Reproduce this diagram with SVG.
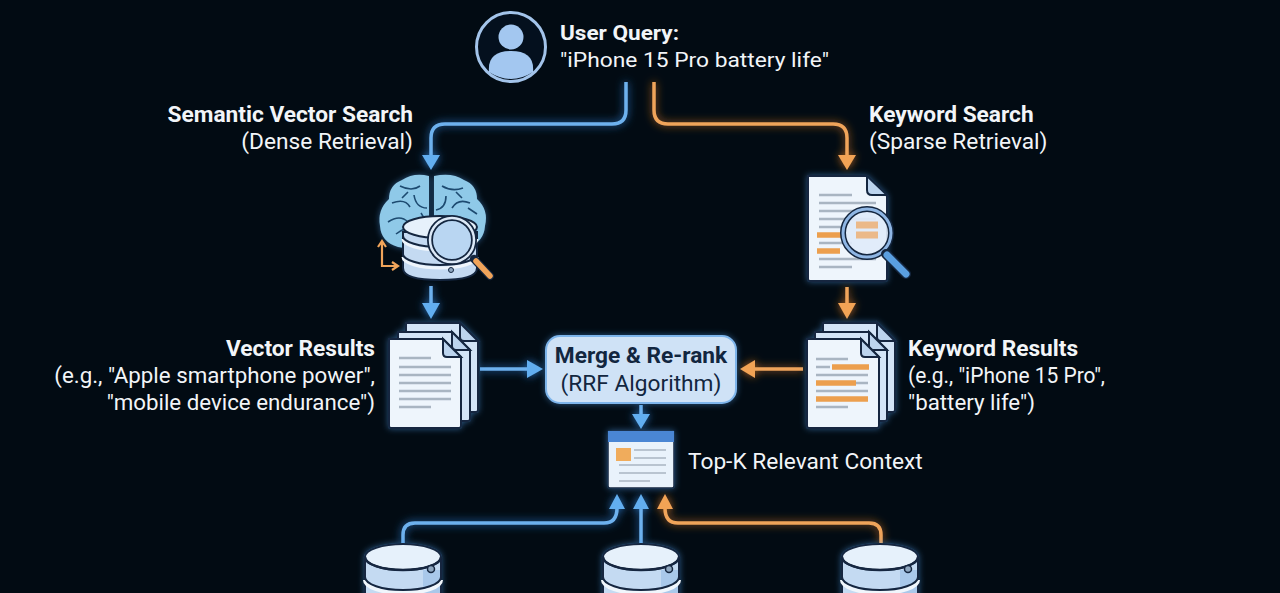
<svg xmlns="http://www.w3.org/2000/svg" width="1280" height="593" viewBox="0 0 1280 593">
<style>
.t{font-family:Roboto,"Liberation Sans",sans-serif;fill:#f2f5f8;font-size:22.7px}
.q{font-size:21px}
.eg{font-size:22.3px}
.b{font-weight:700}
.e{text-anchor:end}
.m{text-anchor:middle}
.blue{fill:none;stroke:#6db1ee;stroke-width:3.5}
.or{fill:none;stroke:#f0a45a;stroke-width:3.5}
.ah{fill:#62aef0}
.ao{fill:#f2a355}
.pg{fill:#eef5fc;stroke:#14263f;stroke-width:2}
.pk{fill:#d3e4f7;stroke:#14263f;stroke-width:2}
.pgb{fill:#bcd4ee;stroke:#14263f;stroke-width:2}
.ln{stroke:#a9b5c2;stroke-width:2.4;fill:none}
.hl{stroke:#ec9f4e;stroke-width:5.5;fill:none}
.ds{stroke:#14263f;stroke-width:2;fill:#c4daf2}
.dt{stroke:#14263f;stroke-width:2;fill:#e6f1fb}
.br{fill:none;stroke:#1d4a70;stroke-width:1.6}
</style>
<defs>
<filter id="gb" filterUnits="userSpaceOnUse" x="0" y="0" width="1280" height="593"><feGaussianBlur in="SourceGraphic" stdDeviation="4.5" result="a"/><feFlood flood-color="#2f86e0" flood-opacity=".85"/><feComposite in2="a" operator="in"/><feMerge><feMergeNode/><feMergeNode in="SourceGraphic"/></feMerge></filter>
<filter id="go" filterUnits="userSpaceOnUse" x="0" y="0" width="1280" height="593"><feGaussianBlur in="SourceGraphic" stdDeviation="4.5" result="a"/><feFlood flood-color="#d9771f" flood-opacity=".8"/><feComposite in2="a" operator="in"/><feMerge><feMergeNode/><feMergeNode in="SourceGraphic"/></feMerge></filter>
<filter id="gw" filterUnits="userSpaceOnUse" x="0" y="0" width="1280" height="593"><feGaussianBlur in="SourceGraphic" stdDeviation="3" result="a"/><feFlood flood-color="#4d9be8" flood-opacity=".5"/><feComposite in2="a" operator="in"/><feMerge><feMergeNode/><feMergeNode in="SourceGraphic"/></feMerge></filter>
<symbol id="page" overflow="visible"><path class="pg" d="M1 1H55L73 19V88Q73 90 71 90H3Q1 90 1 88Z"/><path class="pgb" d="M55 1V15Q55 19 59 19H73Z"/></symbol>
<symbol id="pageback" overflow="visible"><path class="pk" d="M1 1H55L73 19V88Q73 90 71 90H3Q1 90 1 88Z"/><path class="pgb" d="M55 1V15Q55 19 59 19H73Z"/></symbol>
<g id="db">
<path class="ds" d="M-38 12V72H38V12"/>
<path d="M20 25H38V72H20Z" fill="#a9c8ea"/>
<path d="M-38 12V72M38 12V72" stroke="#14263f" stroke-width="2" fill="none"/>
<path d="M-38 35A38 13 0 0 0 38 35" fill="none" stroke="#f0f6fc" stroke-width="4"/>
<path d="M-38 32A38 13 0 0 0 38 32" fill="none" stroke="#14263f" stroke-width="2"/>
<ellipse cx="0" cy="12" rx="38" ry="13" class="dt"/>
<path d="M-38 12A38 13 0 0 0 38 12" fill="none" stroke="#14263f" stroke-width="2.4"/>
<circle cx="28" cy="24" r="3.5" fill="#8ea6bf" stroke="#14263f" stroke-width="1.5"/>
</g>
</defs>
<rect width="1280" height="593" fill="#020b13"/>

<g id="connectors">
<g filter="url(#gb)">
<path class="blue" d="M626 82V110Q626 124 612 124H445Q431 124 431 138V158"/>
<path class="ah" d="M422 155H440L431 170Z"/>
<path class="blue" d="M431 286V306"/>
<path class="ah" d="M422 303H440L431 319Z"/>
<path class="blue" d="M480 369H528"/>
<path class="ah" d="M527 360L543 369L527 378Z"/>
<path class="blue" d="M641 405V418"/>
<path class="ah" d="M632 414H650L641 429Z"/>
<path class="blue" d="M403 544V535Q403 523 415 523H604Q617 523 617 508"/>
<path class="ah" d="M609 509L617 494L625 509Z"/>
<path class="blue" d="M641 544V508"/>
<path class="ah" d="M633 509L641 494L649 509Z"/>
</g>
<g filter="url(#go)">
<path class="or" d="M654 82V110Q654 124 668 124H833Q847 124 847 138V158"/>
<path class="ao" d="M838 155H856L847 170Z"/>
<path class="or" d="M847 287V306"/>
<path class="ao" d="M838 303H856L847 319Z"/>
<path class="or" d="M803 369H752"/>
<path class="ao" d="M755 360L740 369L755 378Z"/>
<path class="or" d="M881 544V535Q881 523 869 523H678Q665 523 665 508"/>
<path class="ao" d="M657 509L665 494L673 509Z"/>
</g>
</g>

<g id="user-query">
<circle cx="511" cy="47" r="34.5" fill="#04101e" stroke="#a3c4ea" stroke-width="3"/>
<circle cx="511" cy="37" r="12.5" fill="#a3c7f0"/>
<path d="M489 72Q487 51 511 51Q535 51 533 72Q511 86 489 72Z" fill="#a3c7f0"/>
<text class="t q b" x="560" y="40" textLength="119" lengthAdjust="spacingAndGlyphs">User Query:</text>
<text class="t q" x="560" y="67" textLength="269" lengthAdjust="spacingAndGlyphs">"iPhone 15 Pro battery life"</text>
</g>

<g id="semantic-label">
<text class="t b e" x="413" y="122">Semantic Vector Search</text>
<text class="t e" x="413" y="149">(Dense Retrieval)</text>
</g>
<g id="keyword-label">
<text class="t b" x="869" y="122">Keyword Search</text>
<text class="t" x="869" y="149">(Sparse Retrieval)</text>
</g>

<g id="brain-db">
<g filter="url(#gw)">
<path d="M429 176Q414 172 402 180Q389 185 389 199Q377 210 380 226Q381 242 398 247L429 252Z" fill="#8fc9e8"/>
<path d="M434 176Q452 172 464 180Q477 185 477 199Q489 210 485 226Q484 242 468 247L434 252Z" fill="#8fc9e8"/>
</g>
<path class="br" d="M392 203Q405 198 410 207M400 186Q412 192 420 186M414 195Q416 208 427 208M388 222Q400 214 408 222M396 234Q406 226 416 228M408 192L402 198M421 213Q426 220 424 226M442 186Q452 192 463 188M470 203Q458 198 452 208M446 196Q446 208 436 210M475 224Q462 216 455 222M477 214L468 208M456 192L462 198"/>
<path class="ds" d="M403 232V268Q403 280 440 280Q477 280 477 268V232Z"/>
<path d="M403 257A37 11 0 0 0 477 257" fill="none" stroke="#eef5fc" stroke-width="3"/>
<path d="M403 254A37 11 0 0 0 477 254" fill="none" stroke="#14263f" stroke-width="2"/>
<path d="M403 239A37 11 0 0 0 477 239" fill="none" stroke="#eef5fc" stroke-width="3"/>
<path d="M403 236A37 11 0 0 0 477 236" fill="none" stroke="#14263f" stroke-width="2"/>
<ellipse cx="440" cy="227" rx="37" ry="11" class="dt"/>
<circle cx="451" cy="270" r="2.5" fill="#8ea6bf" stroke="#14263f"/>
<path d="M474 259L490 276" stroke="#14263f" stroke-width="8" stroke-linecap="round"/>
<path d="M476 261L490 276" stroke="#f0a45a" stroke-width="5.5" stroke-linecap="round"/>
<circle cx="452" cy="240" r="22" fill="#b9d6f2" stroke="#14263f" stroke-width="6"/>
<circle cx="452" cy="240" r="22" fill="none" stroke="#dce9f7" stroke-width="2.5"/>
<path d="M382 242V266H397M378 247L382 241L386 247M392 262L398 266L392 270" fill="none" stroke="#f0a45a" stroke-width="2.2"/>
</g>

<g id="keyword-doc">
<g filter="url(#gw)"><path class="pg" d="M808 176H867L887 196V279Q887 281 885 281H810Q808 281 808 279Z"/></g>
<path class="pgb" d="M867 176V190Q867 195 872 195H887Z"/>
<path class="ln" d="M819 195H852M819 203H876M819 211H876M819 219H876M819 227H842M819 243H852M819 267H852M819 259H876"/>
<path class="hl" d="M817 235H842M817 251H840"/>
<circle cx="867" cy="233" r="24" fill="#dfeafa" fill-opacity=".92" stroke="#14263f" stroke-width="6"/>
<circle cx="867" cy="233" r="24" fill="none" stroke="#8fb6e4" stroke-width="3"/>
<path d="M856 225H878M856 235H878" stroke="#f0a45a" stroke-width="7" opacity=".7"/>
<path d="M886 254L906 274" stroke="#14263f" stroke-width="10" stroke-linecap="round"/>
<path d="M887 255L906 274" stroke="#5a9fe0" stroke-width="7" stroke-linecap="round"/>
</g>

<g id="vector-results">
<g filter="url(#gw)">
<use href="#pageback" x="405" y="322"/>
<use href="#pageback" x="397" y="331"/>
<use href="#page" x="388" y="338"/>
</g>
<path class="ln" d="M399 358H431M399 367H451M399 375H451M399 383H451M399 391H451M399 399H451M399 407H431"/>
<text class="t b e" x="375" y="356">Vector Results</text>
<text class="t eg e" x="375" y="383">(e.g., "Apple smartphone power",</text>
<text class="t eg e" x="375" y="410">"mobile device endurance")</text>
</g>

<g id="keyword-results">
<g filter="url(#gw)">
<use href="#pageback" x="822" y="322"/>
<use href="#pageback" x="814" y="331"/>
<use href="#page" x="806" y="338"/>
</g>
<path class="ln" d="M816 359H848M816 367H830M816 375H868M816 383H868M816 391H868M816 407H848"/>
<path class="hl" d="M832 367H869M816 383H856M816 399H868"/>
<text class="t b" x="908" y="356">Keyword Results</text>
<text class="t eg" x="908" y="383" textLength="197" lengthAdjust="spacingAndGlyphs">(e.g., "iPhone 15 Pro",</text>
<text class="t eg" x="908" y="410">"battery life")</text>
</g>

<g id="merge">
<rect x="546" y="336" width="190" height="67" rx="14" fill="#cfe2f6" stroke="#7db4ea" stroke-width="2" filter="url(#gw)"/>
<text class="t b m" x="641" y="363" style="fill:#12263f">Merge &amp; Re-rank</text>
<text class="t m" x="641" y="391" style="fill:#12263f">(RRF Algorithm)</text>
</g>

<g id="top-k">
<g filter="url(#gw)"><rect x="608" y="431" width="66" height="57" rx="2" fill="#e9f2fb" stroke="#14263f" stroke-width="1.5"/></g>
<rect x="608" y="431" width="66" height="11" fill="#4a86d4"/>
<rect x="616" y="448" width="15" height="13" fill="#f0ac5c"/>
<path class="ln" d="M634 450H666M634 458H666M619 465H666M619 473H666M619 481H650" style="stroke-width:1.6"/>
<text class="t" x="688" y="469">Top-K Relevant Context</text>
</g>

<g id="db-left" filter="url(#gw)"><use href="#db" x="403" y="545"/></g>
<g id="db-mid" filter="url(#gw)"><use href="#db" x="641" y="545"/></g>
<g id="db-right" filter="url(#gw)"><use href="#db" x="880" y="545"/></g>
</svg>
